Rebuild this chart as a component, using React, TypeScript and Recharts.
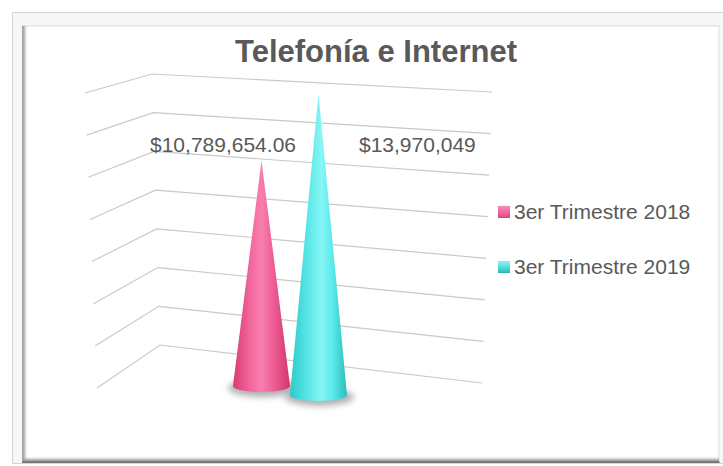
import React from 'react';
import { BarChart, Bar, XAxis, YAxis, CartesianGrid, LabelList, Legend } from 'recharts';

// Chart data
const CATEGORIES = ['Telefonía e Internet'];
const SERIES_NAMES = ['3er Trimestre 2018', '3er Trimestre 2019'];
const VALUES_2018 = [10789654.06];
const VALUES_2019 = [13970049];
const Y_TICKS = [0, 2000000, 4000000, 6000000, 8000000, 10000000, 12000000, 14000000];

const data = CATEGORIES.map((name, i) => ({
  name,
  q2018: VALUES_2018[i],
  q2019: VALUES_2019[i],
}));

const FONT = '"Liberation Sans", Arial, sans-serif';
const TEXT_COLOR = '#595959';
const LEGEND_SWATCH = [
  'linear-gradient(180deg, #ff8cbb 0%, #f0609a 60%, #d94a82 100%)',
  'linear-gradient(180deg, #8af4f4 0%, #4fd8d8 60%, #2fb4b4 100%)',
];

const W = 723;
const H = 466;
const MARGIN = { top: 93, right: 229, bottom: 78, left: 85 };
const PLOT_BOTTOM = H - MARGIN.bottom;
const PLOT_H = H - MARGIN.top - MARGIN.bottom;

const formatMoney = (v: number) =>
  '$' + v.toLocaleString('en-US', { maximumFractionDigits: 2 });

// perspective grid line: left wall + back wall, built from the front-plane y
const PerspectiveLine = (props: any) => {
  const { y1, index } = props;
  const t = (PLOT_BOTTOM - y1) / PLOT_H;
  const fl = [97 - 12 * t, 388 - 295 * t];
  const bl = [160 - 8 * t, 345 - 271 * t];
  const br = [482 + 10 * t, 383 - 291 * t];
  return (
    <polyline
      key={`grid-${index}`}
      points={`${fl[0]},${fl[1]} ${bl[0]},${bl[1]} ${br[0]},${br[1]}`}
      fill="none"
      stroke="#c9c9c9"
      strokeWidth={1.2}
    />
  );
};

type ConeStyle = { id: string; stops: [number, string][]; drop: number };

const CONES: ConeStyle[] = [
  {
    id: 'cone-pink',
    stops: [
      [0, '#d63b72'],
      [0.3, '#f2679c'],
      [0.5, '#f77fae'],
      [0.7, '#ee5f95'],
      [1, '#cf376c'],
    ],
    drop: -2,
  },
  {
    id: 'cone-cyan',
    stops: [
      [0, '#2fc9c9'],
      [0.3, '#57e6e6'],
      [0.55, '#86f6f6'],
      [0.75, '#5ae9e9'],
      [1, '#2bbdbd'],
    ],
    drop: 7,
  },
];

const coneShape = (style: ConeStyle) => (props: any) => {
  const { x, y, width, height } = props;
  const cx = x + width / 2;
  const r = width / 2;
  const ry = 6;
  const baseY = y + height + style.drop;
  const path = `M${cx},${y} L${cx + r},${baseY} A${r},${ry} 0 0 1 ${cx - r},${baseY} Z`;
  return (
    <g>
      <defs>
        <linearGradient id={style.id} x1="0" y1="0" x2="1" y2="0">
          {style.stops.map(([o, c]) => (
            <stop key={o} offset={o} stopColor={c} />
          ))}
        </linearGradient>
        <filter id={`${style.id}-blur`} x="-50%" y="-200%" width="200%" height="500%">
          <feGaussianBlur stdDeviation="3" />
        </filter>
      </defs>
      <ellipse
        cx={cx + 1}
        cy={baseY + 2}
        rx={r + 6}
        ry={ry + 3}
        fill="#6f6f6f"
        opacity={0.55}
        filter={`url(#${style.id}-blur)`}
      />
      <path d={path} fill={`url(#${style.id})`} />
    </g>
  );
};

const labelRenderer = (anchor: 'start' | 'end', dx: number, dy: number) => (props: any) => {
  const { x, y, width, value } = props;
  return (
    <text
      x={x + width + dx}
      y={y + dy}
      textAnchor={anchor}
      fontFamily={FONT}
      fontSize={21}
      fill={TEXT_COLOR}
    >
      {formatMoney(value)}
    </text>
  );
};

const renderLegend = (props: any) => {
  const { payload = [] } = props;
  return (
    <div style={{ fontFamily: FONT, fontSize: 21, color: TEXT_COLOR }}>
      {payload.map((entry: any, i: number) => (
        <div
          key={entry.value}
          style={{ display: 'flex', alignItems: 'center', height: 24, marginBottom: 31 }}
        >
          <span
            style={{
              display: 'inline-block',
              width: 12,
              height: 12,
              marginRight: 4,
              background: LEGEND_SWATCH[i],
              boxShadow: 'inset 0 0 1px rgba(0,0,0,0.3)',
            }}
          />
          <span style={{ whiteSpace: 'nowrap' }}>{entry.value}</span>
        </div>
      ))}
    </div>
  );
};

export default function App() {
  return (
    <div style={{ position: 'absolute', left: 0, top: 0, width: W, height: H, background: '#fff' }}>
      {/* picture frame */}
      <div
        style={{
          position: 'absolute',
          left: 12,
          top: 12,
          width: W - 12,
          height: 452,
          border: '1px solid #d4d4d4',
          borderRight: 'none',
          background: '#f7f7f7',
          boxSizing: 'border-box',
        }}
      />
      <div
        style={{
          position: 'absolute',
          left: 22,
          top: 25,
          width: 698,
          height: 438,
          background: '#fff',
          borderTop: '1px solid #e4e4e4',
          borderBottom: '2px solid #7a7a7a',
          borderRight: '1px solid #ececec',
          boxShadow: 'inset 4px 0 3px -1px #a0a0a0, inset 0 -3px 3px -1px #9a9a9a',
          boxSizing: 'border-box',
        }}
      />
      <div
        style={{
          position: 'absolute',
          left: 176,
          top: 34,
          width: 400,
          height: 36,
          lineHeight: '36px',
          textAlign: 'center',
          fontFamily: FONT,
          fontWeight: 'bold',
          fontSize: 31,
          color: TEXT_COLOR,
        }}
      >
        Telefonía e Internet
      </div>
      <div style={{ position: 'absolute', left: 0, top: 0 }}>
        <BarChart width={W} height={H} data={data} margin={MARGIN} barSize={57} barGap={0}>
          <CartesianGrid vertical={false} horizontal={PerspectiveLine} />
          <XAxis dataKey="name" hide />
          <YAxis hide domain={[0, 14000000]} ticks={Y_TICKS} />
          <Legend
            layout="horizontal"
            verticalAlign="middle"
            content={renderLegend}
            wrapperStyle={{ left: 498, top: 200, width: 'auto' }}
          />
          <Bar
            dataKey="q2018"
            name={SERIES_NAMES[0]}
            fill="#f0609a"
            shape={coneShape(CONES[0])}
            isAnimationActive={false}
          >
            <LabelList dataKey="q2018" content={labelRenderer('end', 6, -9)} />
          </Bar>
          <Bar
            dataKey="q2019"
            name={SERIES_NAMES[1]}
            fill="#4fd8d8"
            shape={coneShape(CONES[1])}
            isAnimationActive={false}
          >
            <LabelList dataKey="q2019" content={labelRenderer('start', 12, 58)} />
          </Bar>
        </BarChart>
      </div>
    </div>
  );
}
